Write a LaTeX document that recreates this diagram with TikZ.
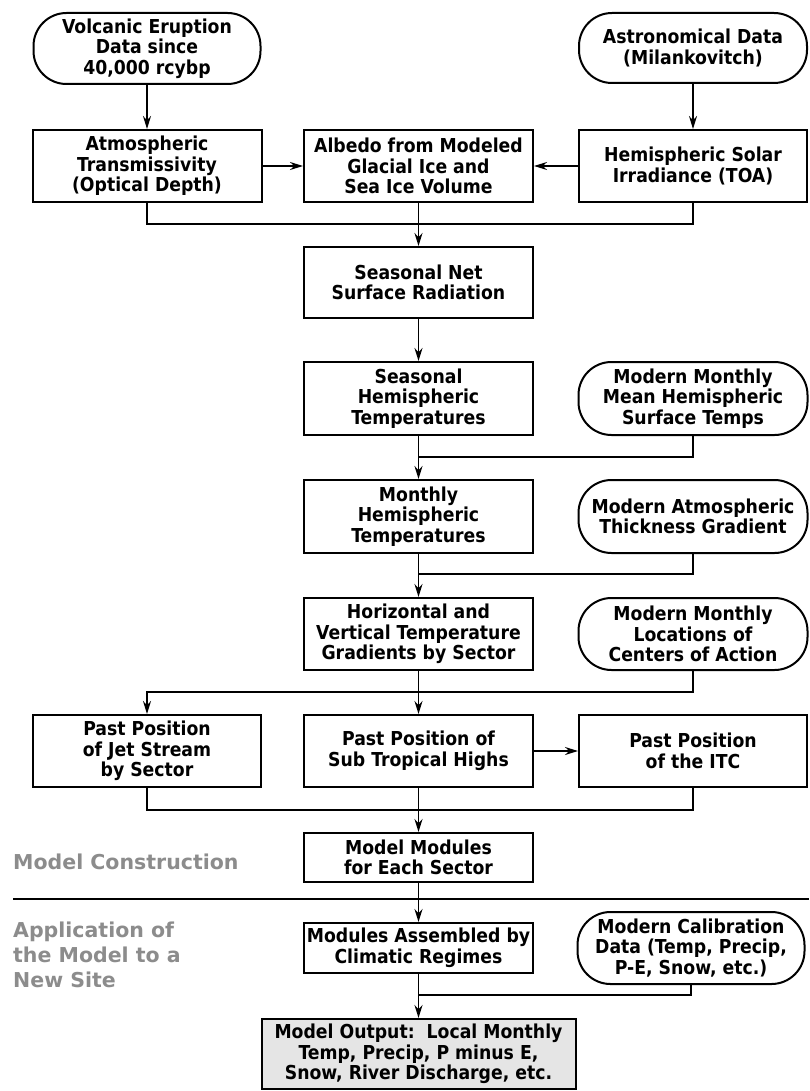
\documentclass[tikz,border=0pt]{standalone}
\usepackage{fontspec}
\setmainfont{DejaVu Sans Condensed}
\newfontfamily\labelfont{DejaVu Sans}
\usepackage{tikz}
\usetikzlibrary{arrows.meta}
\usetikzlibrary{positioning}

\tikzset{
  procbox/.style={draw, line width=2pt, align=center, inner sep=0pt,
    minimum width=229pt, minimum height=72pt,
    font=\fontsize{19.2}{20.5}\selectfont\bfseries},
  databox/.style={procbox, rounded corners=33pt},
  link/.style={line width=1.7pt},
  sidelabel/.style={anchor=north west, align=left, inner sep=0pt, text=black!45,
    font=\labelfont\fontsize{20.5}{25}\selectfont\bfseries}
}

\begin{document}
\begin{tikzpicture}[x=1pt, y=-1pt, >={Stealth[length=13pt,width=8pt]}]
	\useasboundingbox (0,0) rectangle (809,1091);
	% inputs and first row
	\node[databox, minimum width=227pt, minimum height=71pt] (volc) at (147,48.5) {Volcanic Eruption\\Data since\\40,000 rcybp};
	\node[databox, minimum width=228pt, minimum height=70pt] (astro) at (693,48) {Astronomical Data\\(Milankovitch)};
	\node[procbox] (trans) at (147,166) {Atmospheric\\Transmissivity\\(Optical Depth)};
	\node[procbox] (albedo) at (418.5,166) {Albedo from Modeled\\Glacial Ice and\\Sea Ice Volume};
	\node[procbox, minimum width=228pt] (solar) at (693,166) {Hemispheric Solar\\Irradiance (TOA)};
	% main column
	\node[procbox, minimum height=71pt] (netrad) at (418.5,282.5) {Seasonal Net\\Surface Radiation};
	\node[procbox, minimum height=73pt] (seastemp) at (418.5,398.5) {Seasonal\\Hemispheric\\Temperatures};
	\node[databox, minimum height=73pt] (modtemp) at (693,398.5) {Modern Monthly\\Mean Hemispheric\\Surface Temps};
	\node[procbox, minimum height=73pt] (montemp) at (418.5,516.5) {Monthly\\Hemispheric\\Temperatures};
	\node[databox, minimum height=73pt] (thick) at (693,516.5) {Modern Atmospheric\\Thickness Gradient};
	\node[procbox] (grad) at (418.5,634) {Horizontal and\\Vertical Temperature\\Gradients by Sector};
	\node[databox] (centers) at (693,634) {Modern Monthly\\Locations of\\Centers of Action};
	% sector row
	\node[procbox, minimum width=228pt] (jet) at (147,751) {Past Position\\of Jet Stream\\by Sector};
	\node[procbox] (subtrop) at (418.5,751) {Past Position of\\Sub Tropical Highs};
	\node[procbox, minimum width=228pt] (itc) at (693,751) {Past Position\\of the ITC};
	\node[procbox, minimum height=49pt] (modules) at (418.5,857.5) {Model Modules\\for Each Sector};
	% application part
	\node[procbox, minimum height=50pt] (assembled) at (418.5,948) {Modules Assembled by\\Climatic Regimes};
	\node[databox, minimum width=227pt] (calib) at (691,948) {Modern Calibration\\Data (Temp, Precip,\\P-E, Snow, etc.)};
	\node[procbox, fill=black!10, minimum width=314pt, minimum height=70pt] (output) at (418.5,1054) {Model Output:\ \ Local Monthly\\Temp, Precip, P minus E,\\Snow, River Discharge, etc.};

	% side labels and separator
	\node[sidelabel] (constr) at (13,854) {Model Construction};
	\node[sidelabel] (appl) at (13,922) {Application of\\the Model to a\\New Site};
	\coordinate (sepl) at (13,899);
	\coordinate (sepr) at (809,899);
	\draw[line width=1.7pt] (sepl) -- (sepr);

	% junctions
	\coordinate (j1) at (418.5,224);
	\coordinate (j2) at (418.5,457);
	\coordinate (j3) at (418.5,574);
	\coordinate (j4) at (418.5,692);
	\coordinate (j5) at (418.5,810);
	\coordinate (j6) at (418.5,995);

	\draw[link,->] (volc) -- (trans);
	\draw[link,->] (astro) -- (solar);
	\draw[link,->] (trans) -- (albedo);
	\draw[link,->] (solar) -- (albedo);
	\draw[link] (trans.south) |- (j1) -| (solar.south);
	\draw[link,->] (albedo) -- (netrad);
	\draw[link,->] (netrad) -- (seastemp);
	\draw[link,->] (seastemp) -- (montemp);
	\draw[link] (modtemp.south) |- (j2);
	\draw[link,->] (montemp) -- (grad);
	\draw[link] (thick.south) |- (j3);
	\draw[link,->] (grad) -- (subtrop);
	\draw[link,->] (centers.south) |- (jet.north |- j4) -- (jet.north);
	\draw[link,->] (subtrop) -- (itc);
	\draw[link] (jet.south) |- (j5) -| (itc.south);
	\draw[link,->] (subtrop) -- (modules);
	\draw[link,->] (modules) -- (assembled);
	\draw[link] (calib.south) |- (j6);
	\draw[link,->] (assembled) -- (output);
\end{tikzpicture}
\end{document}
